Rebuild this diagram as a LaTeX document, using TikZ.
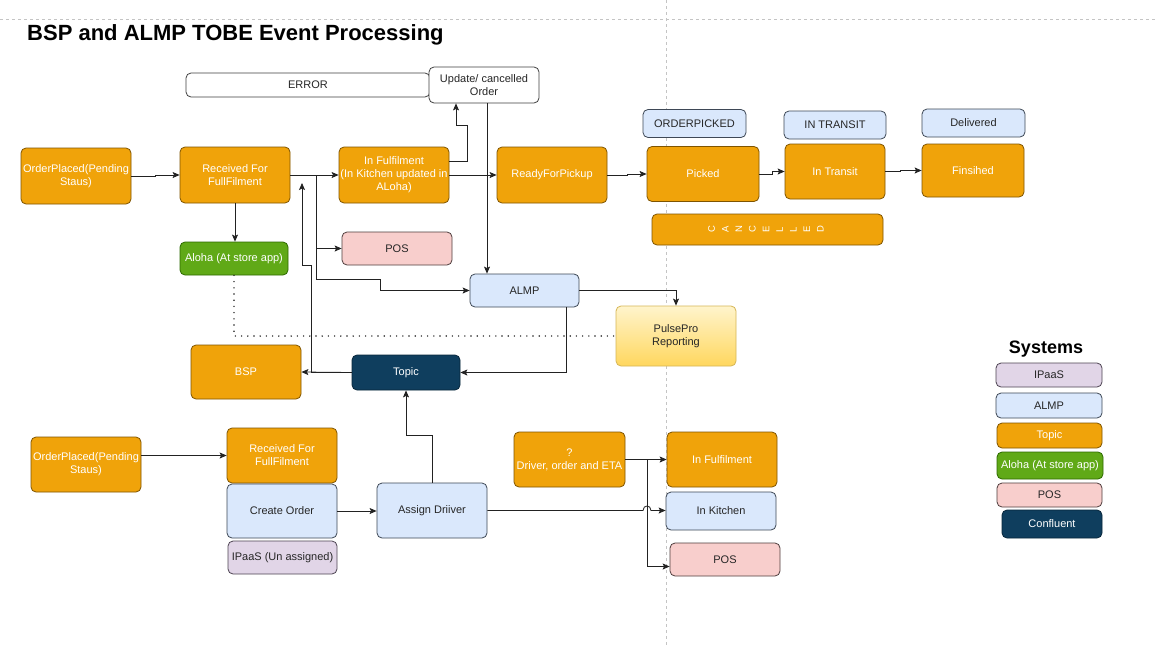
\documentclass[tikz,border=0pt]{standalone}
\usepackage{fontspec}
\setmainfont{Liberation Sans}
\usetikzlibrary{arrows.meta,shadings}
\definecolor{orF}{HTML}{F0A30A}
\definecolor{orB}{HTML}{7F5400}
\definecolor{lbF}{HTML}{DAE8FC}
\definecolor{lbB}{HTML}{3E4856}
\definecolor{grF}{HTML}{60A917}
\definecolor{grB}{HTML}{2D6A00}
\definecolor{pkF}{HTML}{F8CECC}
\definecolor{pkB}{HTML}{4F3E3E}
\definecolor{lvF}{HTML}{E1D5E7}
\definecolor{lvB}{HTML}{4D4452}
\definecolor{nvF}{HTML}{0F3E5E}
\definecolor{nvB}{HTML}{08263A}
\definecolor{ppT}{HTML}{FFF4CC}
\definecolor{ppBt}{HTML}{FFD75E}
\definecolor{ppB}{HTML}{D6B656}
\definecolor{lnC}{HTML}{222222}
\definecolor{grid}{HTML}{C4C4C4}
\tikzset{
  box/.style={draw, rounded corners=5pt, line width=0.8pt, align=center, inner sep=1pt,
    font=\fontsize{11}{13}\selectfont},
  orbox/.style={box, fill=orF, draw=orB, text=white},
  lbbox/.style={box, fill=lbF, draw=lbB, text=black!85},
  grbox/.style={box, fill=grF, draw=grB, text=white},
  pkbox/.style={box, fill=pkF, draw=pkB, text=black!85},
  lvbox/.style={box, fill=lvF, draw=lvB, text=black!85},
  nvbox/.style={box, fill=nvF, draw=nvB, text=white},
  whbox/.style={box, fill=white, draw=black!75, text=black!85},
  ppbox/.style={box, top color=ppT, bottom color=ppBt, draw=ppB, text=black!85},
  sz/.style n args={2}{minimum width=#1pt, minimum height=#2pt},
  arr/.style={draw=lnC, line width=0.8pt, -{Stealth[length=7pt,width=6pt,inset=1.5pt]}},
  conn/.style={draw=lnC, line width=0.8pt},
  dots/.style={draw=lnC, line width=1.6pt, line cap=round, dash pattern=on 0pt off 6.2pt},
  gridline/.style={draw=grid, line width=0.7pt, dash pattern=on 3pt off 3pt}
}
\begin{document}
\begin{tikzpicture}[x=1pt,y=-1pt]
\useasboundingbox (0,0) rectangle (1157,645);
\fill[white] (0,0) rectangle (1157,645);
% page guides
\draw[gridline] (0,19) -- (1157,19);
\draw[gridline] (666,0) -- (666,645);

\node[anchor=west, inner sep=0pt, font=\bfseries\fontsize{22}{26}\selectfont] (title) at (27,35) {BSP and ALMP TOBE Event Processing};

% top row
\node[whbox, sz={244}{24}] (err) at (308,85) {ERROR};
\node[whbox, sz={110}{36}] (upd) at (484,85) {Update/ cancelled\\Order};
\node[orbox, sz={110}{56}] (op1) at (76,176) {OrderPlaced(Pending\\Staus)};
\node[orbox, sz={110}{56}] (rec1) at (235,175) {Received For\\FullFilment};
\node[orbox, sz={110}{56}] (inf1) at (394,175) {In Fulfilment\\(In Kitchen updated in\\ALoha)};
\node[orbox, sz={110}{56}] (rfp) at (552,175) {ReadyForPickup};
\node[lbbox, sz={103}{28}] (opk) at (694.5,123.5) {ORDERPICKED};
\node[orbox, sz={112}{55}] (pk) at (703,174) {Picked};
\node[lbbox, sz={102}{28}] (itl) at (835,125) {IN TRANSIT};
\node[orbox, sz={100}{55}] (it) at (835,171.5) {In Transit};
\node[lbbox, sz={103}{28}] (del) at (973.5,123) {Delivered};
\node[orbox, sz={102}{53}] (fin) at (973,170.5) {Finsihed};
\node[orbox, sz={231}{31}] (canc) at (767.5,229.5) {};
\node[rotate=90, align=center, inner sep=0pt, text=white, font=\fontsize{9.5}{13.6}\selectfont] (canct) at (766,229.5) {C\\A\\N\\C\\E\\L\\L\\E\\D};

% middle
\node[grbox, sz={108}{33}] (alo) at (234,258.5) {Aloha (At store app)};
\node[pkbox, sz={110}{33}] (pos1) at (397,248.5) {POS};
\node[lbbox, sz={109}{33}] (alm) at (524.5,290.5) {ALMP};
\node[ppbox, sz={120}{60}] (pp) at (676,336) {PulsePro\\Reporting};
\node[orbox, sz={110}{54}] (bsp) at (246,372) {BSP};
\node[nvbox, sz={108}{35}] (topic) at (406,372.5) {Topic};
\coordinate (recin) at (302,183);

% bottom
\node[orbox, sz={110}{55}] (op2) at (86,464.5) {OrderPlaced(Pending\\Staus)};
\node[orbox, sz={110}{55}] (rec2) at (282,455.5) {Received For\\FullFilment};
\node[lbbox, sz={110}{54}] (co) at (282,511) {Create Order};
\node[lvbox, sz={109}{33}] (ipa) at (282.5,557.5) {IPaaS (Un assigned)};
\node[lbbox, sz={110}{55}] (ad) at (432,510.5) {Assign Driiver};
\node[orbox, sz={111}{55}] (qd) at (569.5,459.5) {?\\Driver, order and ETA};
\node[orbox, sz={110}{55}] (if2) at (722,459.5) {In Fulfilment};
\node[lbbox, sz={110}{38}] (ik) at (721,511) {In Kitchen};
\node[pkbox, sz={110}{33}] (pos2) at (725,559.5) {POS};

% legend
\node[font=\bfseries\fontsize{18}{21}\selectfont, inner sep=0pt] (sys) at (1046,349) {Systems};
\node[lvbox, sz={106}{24}] (lipa) at (1049,375) {IPaaS};
\node[lbbox, sz={106}{25}] (lalm) at (1049,405.5) {ALMP};
\node[orbox, sz={105}{25}] (ltop) at (1049.5,435.5) {Topic};
\node[grbox, sz={106}{27}] (lalo) at (1050,465.5) {Aloha (At store app)};
\node[pkbox, sz={105}{24}] (lpos) at (1049.5,495) {POS};
\node[nvbox, sz={100}{28}] (lcon) at (1052,524) {Confluent};

% connectors top
\draw[arr] (op1.east) -- ++(24,0) |- (rec1.west);
\draw[arr] (rec1.east) -- (inf1.west);
\draw[arr] (rec1.east) -- ++(26,0) |- (pos1.west);
\draw[arr] (rec1.east) -- ++(26,0) |- (380,279) |- (alm.west);
\draw[arr] (rec1.south) -- (rec1.south |- alo.north);
\draw[arr] ([yshift=14pt]inf1.east) -| (467,125) -| ([xshift=-28pt]upd.south);
\draw[arr] (inf1.east) -- (rfp.west);
\draw[arr] ([xshift=3pt]upd.south) -- ([xshift=3pt]upd.south |- alm.north);
\draw[arr] (rfp.east) -- ++(20,0) |- (pk.west);
\draw[arr] (pk.east) -- ++(13,0) |- (it.west);
\draw[arr] (it.east) -- ++(15,0) |- (fin.west);
% middle
\draw[arr] (alm.east) -| (pp.north);
\draw[arr] ([xshift=-13pt]alm.south east) |- (topic.east);
\draw[arr] (topic.west) -- (bsp.east);
\draw[arr] (topic.west) -| (311,265) -| (recin);
\draw[dots] (alo.south) |- (pp.west);
% bottom
\draw[arr] (op2.east |- rec2.west) -- (rec2.west);
\draw[arr] (co.east) -- (co.east -| ad.west);
\draw[arr] (ad.north) -- ++(0,-47) -| (topic.south);
\draw[arr] (ad.east) -- (643,510.5) .. controls (643,504.5) and (651,504.5) .. (651,510.5) -- (ik.west |- 651,510.5);
\draw[arr] (qd.east) -- (if2.west);
\draw[arr] (qd.east) -- ++(22,0) |- ([yshift=-7pt]pos2.west);
\end{tikzpicture}
\end{document}
